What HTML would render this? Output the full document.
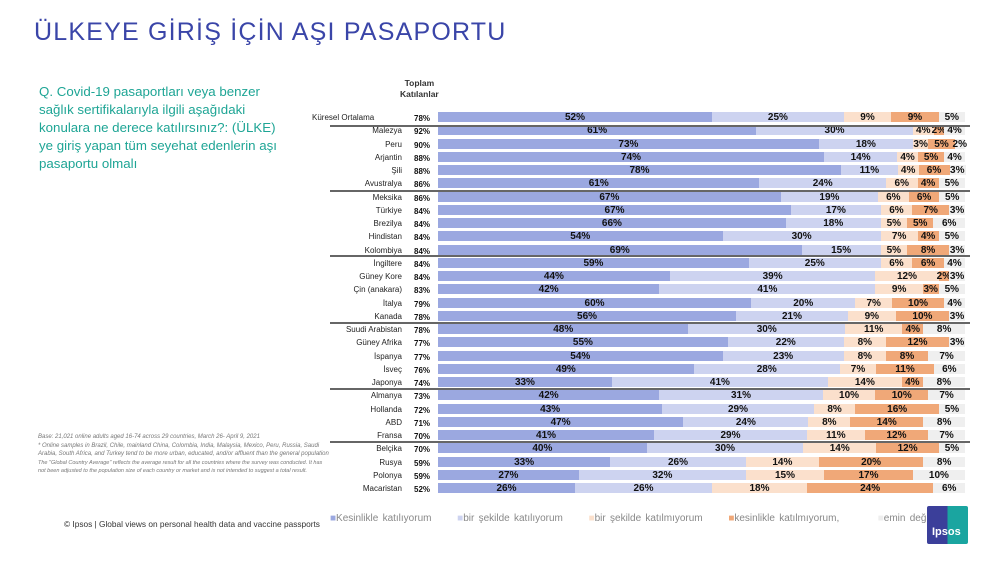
<!DOCTYPE html>
<html><head><meta charset="utf-8"><style>
body{margin:0;width:1000px;height:563px;background:#fff;position:relative;overflow:hidden;font-family:"Liberation Sans",sans-serif}
.a{position:absolute;white-space:nowrap}
.seg{position:absolute;height:10px;}
.lb{position:absolute;font-size:10px;font-weight:bold;color:#111;line-height:11px;text-align:center}
.cn{position:absolute;font-size:8px;color:#222;text-align:right;width:100px;line-height:10px}
.tot{position:absolute;font-size:8px;font-weight:bold;color:#111;line-height:10px}
.sep{position:absolute;left:330px;width:640px;height:2px;background:#666}
</style></head><body>
<div class="a" style="left:34px;top:18px;font-size:25px;color:#3a45a8;letter-spacing:1.2px">ÜLKEYE GİRİŞ İÇİN AŞI PASAPORTU</div>
<div class="a" style="left:39px;top:83px;font-size:13.3px;line-height:18px;color:#1ea595">Q. Covid-19 pasaportları veya benzer<br>sağlık sertifikalarıyla ilgili aşağıdaki<br>konulara ne derece katılırsınız?: (ÜLKE)<br>ye giriş yapan tüm seyehat edenlerin aşı<br>pasaportu olmalı</div>
<div class="a" style="left:400px;top:78px;font-size:8.5px;font-weight:bold;color:#333;text-align:center;line-height:11px">Toplam<br>Katılanlar</div>
<div class="a" style="left:38px;top:433px;font-size:6px;font-style:italic;color:#777;line-height:8.5px;white-space:normal;width:292px">Base: 21,021 online adults aged 16-74 across 29 countries, March 26- April 9, 2021<br>* Online samples in Brazil, Chile, mainland China, Colombia, India, Malaysia, Mexico, Peru, Russia, Saudi Arabia, South Africa, and Turkey tend to be more urban, educated, and/or affluent than the general population<br><span style="font-size:5.5px;line-height:7.5px">The "Global Country Average" reflects the average result for all the countries where the survey was conducted. It has not been adjusted to the population size of each country or market and is not intended to suggest a total result.</span></div>
<div class="a" style="left:64px;top:519px;font-size:8.3px;color:#333">© Ipsos | Global views on personal health data and vaccine passports</div>
<div class="a" style="left:330px;top:513px;font-size:10px;color:#888;word-spacing:1.5px">
<span style="color:#9ba8e0">■</span>Kesinlikle katılıyorum &nbsp;&nbsp;&nbsp;&nbsp;&nbsp;<span style="color:#cdd3f0">■</span>bir şekilde katılıyorum &nbsp;&nbsp;&nbsp;&nbsp;&nbsp;<span style="color:#fbe0cc">■</span>bir şekilde katılmıyorum &nbsp;&nbsp;&nbsp;&nbsp;&nbsp;<span style="color:#f0a878">■</span>kesinlikle katılmıyorum, &nbsp;&nbsp;&nbsp;&nbsp;&nbsp;&nbsp;&nbsp;&nbsp;<span style="color:#eee">■</span>emin değilim</div>
<div class="a" style="left:927px;top:506px;width:41px;height:38px;background:linear-gradient(90deg,#3b3f9a 50%,#1aa5a0 50%);border-radius:2px"><div style="position:absolute;left:5px;top:20px;color:#fff;font-size:11px;font-weight:bold">Ipsos</div></div>
<div id="c"></div>
<script>
var d=[["Küresel Ortalama",78,52,25,9,9,5],["Malezya",92,61,30,4,2,4],["Peru",90,73,18,3,5,2],["Arjantin",88,74,14,4,5,4],["Şili",88,78,11,4,6,3],["Avustralya",86,61,24,6,4,5],["Meksika",86,67,19,6,6,5],["Türkiye",84,67,17,6,7,3],["Brezilya",84,66,18,5,5,6],["Hindistan",84,54,30,7,4,5],["Kolombiya",84,69,15,5,8,3],["İngiltere",84,59,25,6,6,4],["Güney Kore",84,44,39,12,2,3],["Çin (anakara)",83,42,41,9,3,5],["İtalya",79,60,20,7,10,4],["Kanada",78,56,21,9,10,3],["Suudi Arabistan",78,48,30,11,4,8],["Güney Afrika",77,55,22,8,12,3],["İspanya",77,54,23,8,8,7],["İsveç",76,49,28,7,11,6],["Japonya",74,33,41,14,4,8],["Almanya",73,42,31,10,10,7],["Hollanda",72,43,29,8,16,5],["ABD",71,47,24,8,14,8],["Fransa",70,41,29,11,12,7],["Belçika",70,40,30,14,12,5],["Rusya",59,33,26,14,20,8],["Polonya",59,27,32,15,17,10],["Macaristan",52,26,26,18,24,6]];
var col=["#9ba8e0","#cdd3f0","#fbe0cc","#f0a878","#efefef"];
var h="";
d.forEach(function(r,i){
 var y=112+i*13.25;
 h+='<div class="cn" style="left:'+(i==0?312:302)+'px;top:'+(y+1)+'px;'+(i==0?'text-align:left':'')+'">'+r[0]+'</div>';
 h+='<div class="tot" style="left:414px;top:'+(y+2)+'px">'+r[1]+'%</div>';
 var s=r[2]+r[3]+r[4]+r[5]+r[6],x=438,W=527;
 for(var k=0;k<5;k++){var w=r[2+k]/s*W;
  h+='<div class="seg" style="left:'+x+'px;top:'+y+'px;width:'+(w+0.5)+'px;background:'+col[k]+'"></div>';
  h+='<div class="lb" style="left:'+(x+w/2-15)+'px;width:30px;top:'+(y)+'px">'+r[2+k]+'%</div>';
  x+=w;}
});
[124.5,189.5,255,321.5,387.5,440.5].forEach(function(y){h+='<div class="sep" style="top:'+y+'px"></div>';});
document.getElementById("c").innerHTML=h;
</script>
</body></html>
